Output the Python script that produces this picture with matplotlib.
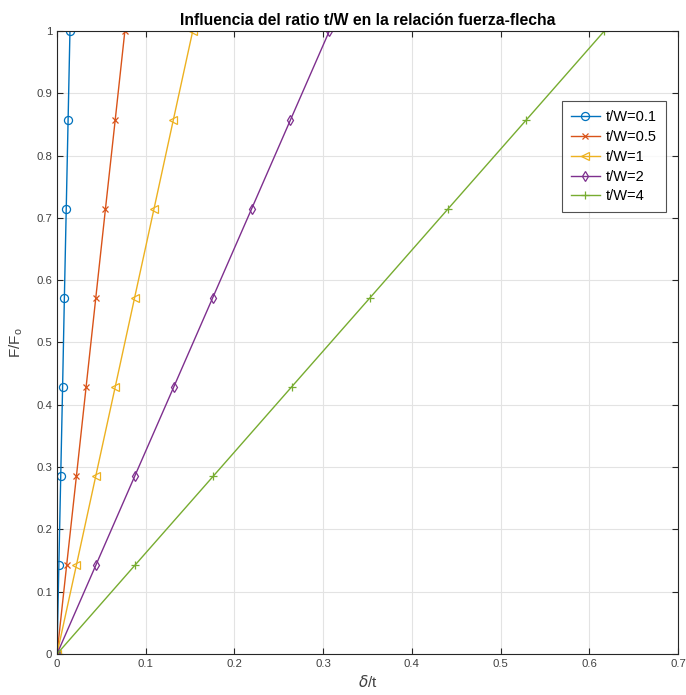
import matplotlib
matplotlib.use("Agg")
import matplotlib.pyplot as plt

plt.rcParams['font.family'] = ['Liberation Sans', 'DejaVu Sans']

force = [0, 0.1429, 0.2857, 0.4286, 0.5714, 0.7143, 0.8571, 1.0]
labels = ['t/W=0.1', 't/W=0.5', 't/W=1', 't/W=2', 't/W=4']
defl_01 = [0, 0.0021, 0.0042, 0.0063, 0.0083, 0.0104, 0.0125, 0.0146]
defl_05 = [0, 0.0109, 0.0219, 0.0328, 0.0437, 0.0546, 0.0656, 0.0765]
defl_1 = [0, 0.0219, 0.0437, 0.0656, 0.0874, 0.1093, 0.1311, 0.1530]
defl_2 = [0, 0.0439, 0.0877, 0.1316, 0.1754, 0.2193, 0.2631, 0.3070]
defl_4 = [0, 0.0881, 0.1763, 0.2644, 0.3526, 0.4407, 0.5289, 0.6170]
series = [defl_01, defl_05, defl_1, defl_2, defl_4]
xticks = [0, 0.1, 0.2, 0.3, 0.4, 0.5, 0.6, 0.7]
yticks = [0, 0.1, 0.2, 0.3, 0.4, 0.5, 0.6, 0.7, 0.8, 0.9, 1]
xticklabels = ['0', '0.1', '0.2', '0.3', '0.4', '0.5', '0.6', '0.7']
yticklabels = ['0', '0.1', '0.2', '0.3', '0.4', '0.5', '0.6', '0.7', '0.8', '0.9', '1']

colors = ['#0072BD', '#D95319', '#EDB120', '#7E2F8E', '#77AC30']
markers = ['o', 'x', '<', 'd', '+']
msizes = [5.8, 4, 6.2, 5.2, 5.5]

fig = plt.figure(figsize=(6.86, 6.95), dpi=100)
ax = fig.add_axes([0.0831, 0.059, 0.9052, 0.8964])

for x, lab, c, m, ms in zip(series, labels, colors, markers, msizes):
    ax.plot(x, force, color=c, marker=m, markersize=ms, markerfacecolor='none',
            markeredgewidth=0.9, linewidth=1.0, label=lab)

ax.set_xlim(0, 0.7)
ax.set_ylim(0, 1)
ax.set_xticks(xticks)
ax.set_yticks(yticks)
ax.set_xticklabels(xticklabels)
ax.set_yticklabels(yticklabels)
ax.grid(True, color='#e3e3e3', linewidth=0.8)
ax.set_axisbelow(True)
for s in ax.spines.values():
    s.set_color('#262626')
    s.set_linewidth(0.8)
ax.tick_params(direction='in', top=True, right=True, length=4, width=0.8,
               colors='#262626', labelsize=8.2, labelcolor='#404040')

ax.set_title('Influencia del ratio t/W en la relación fuerza-flecha',
             fontsize=11.3, fontweight='bold', pad=4)
ax.set_xlabel(r'$\delta$/t', fontsize=11, color='#404040', labelpad=4)
ax.set_ylabel(r'F/F$_\mathregular{o}$', fontsize=11, color='#404040', labelpad=8)

leg = ax.legend(loc='upper right', bbox_to_anchor=(0.98, 0.887), fontsize=10.5,
                frameon=True, fancybox=False, edgecolor='#262626',
                handlelength=2.0, borderpad=0.6, labelspacing=0.4, handletextpad=0.4,
                borderaxespad=0)
leg.get_frame().set_linewidth(0.8)

fig.savefig('out.png', dpi=100)
